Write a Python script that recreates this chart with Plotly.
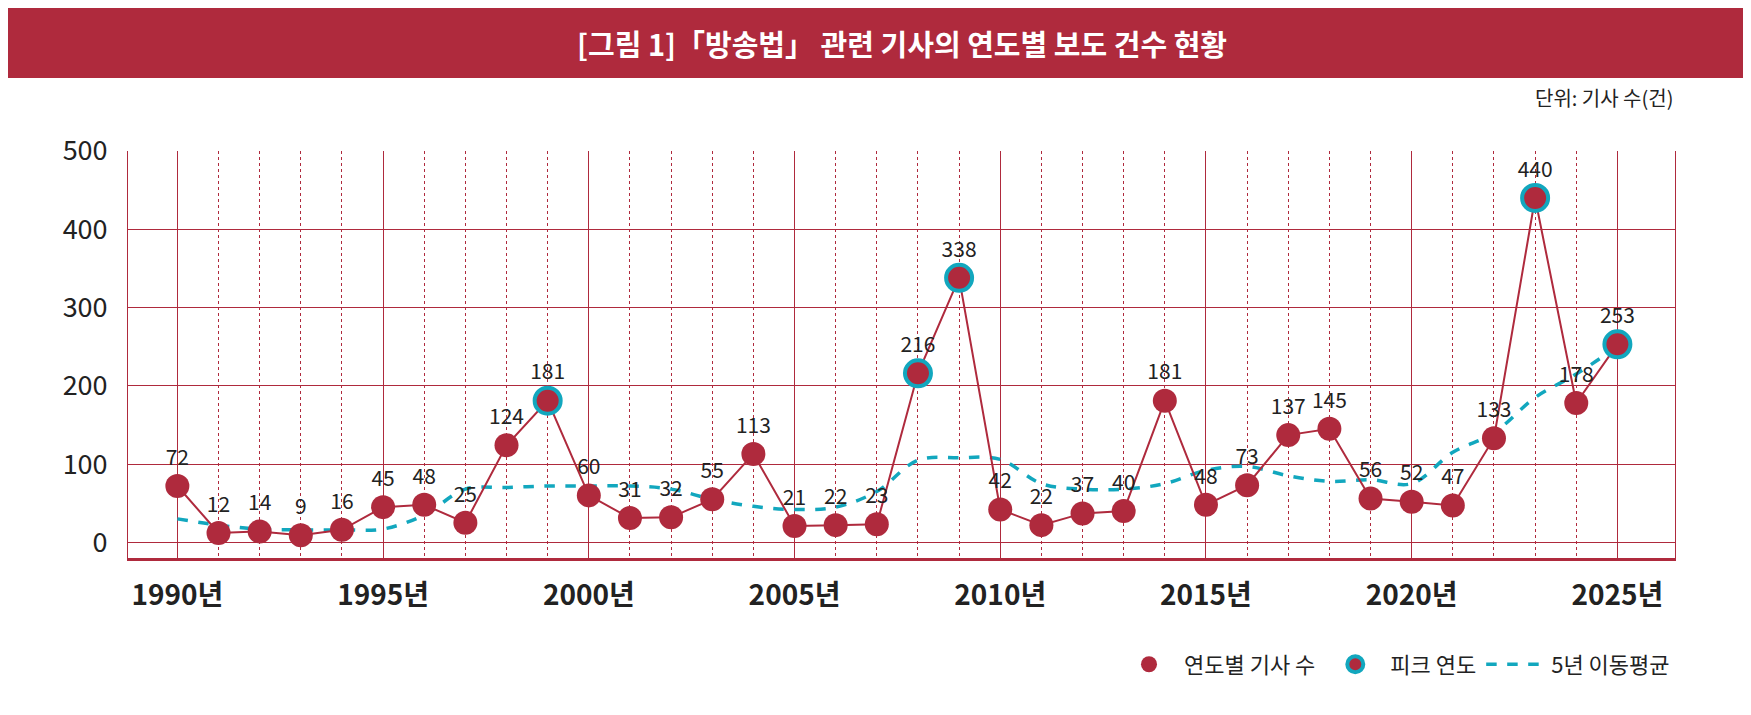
import plotly.graph_objects as go

# 연도별 '방송법' 관련 기사 수
years = list(range(1990, 2026))
counts = [72, 12, 14, 9, 16, 45, 48, 25, 124, 181,
          60, 31, 32, 55, 113, 21, 22, 23, 216, 338,
          42, 22, 37, 40, 181, 48, 73, 137, 145, 56,
          52, 47, 133, 440, 178, 253]
peak_years = [1999, 2008, 2009, 2023, 2025]
# 5년 이동평균
moving_avg = [30, 22, 17, 16, 16, 17, 35, 68, 70, 72,
              72, 72, 68, 55, 46, 42, 45, 65, 105, 108,
              106, 75, 68, 68, 75, 92, 97, 85, 78, 80,
              75, 115, 140, 185, 215, 250]
tick_years = [1990, 1995, 2000, 2005, 2010, 2015, 2020, 2025]

RED = '#AF2A3D'
TEAL = '#12A7BE'
FONT = 'Noto Sans CJK KR'

peak_counts = [counts[years.index(y)] for y in peak_years]
minor_years = [y for y in years if y not in tick_years]

fig = go.Figure()

fig.add_trace(go.Scatter(x=years, y=moving_avg, mode='lines', name='5년 이동평균',
                         line=dict(color=TEAL, width=3.5, dash='dash', shape='spline'),
                         legendrank=3))
fig.add_trace(go.Scatter(x=years, y=counts, mode='lines', showlegend=False,
                         line=dict(color=RED, width=2), hoverinfo='skip'))
fig.add_trace(go.Scatter(x=years, y=counts, mode='markers+text', name='연도별 기사 수',
                         marker=dict(color=RED, size=24),
                         text=[str(c) for c in counts], textposition='top center',
                         textfont=dict(family=FONT, size=21, color='#222222'),
                         legendrank=1))
fig.add_trace(go.Scatter(x=peak_years, y=peak_counts, mode='markers', name='피크 연도',
                         marker=dict(color=RED, size=26, line=dict(color=TEAL, width=4)),
                         legendrank=2))

fig.update_layout(
    width=1751, height=715,
    margin=dict(l=120, r=84, t=143, b=165),
    paper_bgcolor='white', plot_bgcolor='white',
    font=dict(family=FONT, color='#222222'),
    showlegend=True,
    legend=dict(orientation='h', x=1.0, xanchor='right', y=-0.21, yanchor='top',
                font=dict(family=FONT, size=22, color='#222222'),
                itemwidth=60, traceorder='normal'),
    shapes=[dict(type='rect', xref='paper', yref='paper', x0=-0.3, x1=1.3,
                 y0=1.0 + 73 / 407, y1=2.0, fillcolor=RED, line=dict(width=0),
                 layer='below')],
    annotations=[
        dict(text='<b>[그림 1]「방송법」 관련 기사의 연도별 보도 건수 현황</b>',
             xref='paper', yref='paper', x=0.5, y=1.0 + 108 / 407, yanchor='middle',
             showarrow=False, font=dict(family=FONT, size=29, color='white')),
        dict(text='단위: 기사 수(건)', xref='paper', yref='paper', x=1.0, y=1.0 + 37 / 407,
             xanchor='right', yanchor='bottom', showarrow=False,
             font=dict(family=FONT, size=20, color='#222222')),
    ],
)

fig.update_xaxes(range=[1988.8, 2026.4], tickvals=tick_years,
                 ticktext=[f'<b>{y}년</b>' for y in tick_years],
                 tickfont=dict(family=FONT, size=28, color='#222222'),
                 showgrid=True, gridcolor=RED, gridwidth=1,
                 minor=dict(tickvals=minor_years, showgrid=True, gridcolor=RED,
                            griddash='dot', gridwidth=1),
                 showline=True, linecolor=RED, linewidth=3, mirror=False,
                 ticks='', zeroline=False, ticklabelstandoff=10)
fig.update_yaxes(range=[-20, 500], tickvals=[0, 100, 200, 300, 400, 500],
                 tickfont=dict(family=FONT, size=27, color='#222222'),
                 showgrid=True, gridcolor=RED, gridwidth=1,
                 showline=True, linecolor=RED, linewidth=1, mirror=True,
                 ticks='', zeroline=False, ticklabelstandoff=14)

fig.write_html('out.html')
